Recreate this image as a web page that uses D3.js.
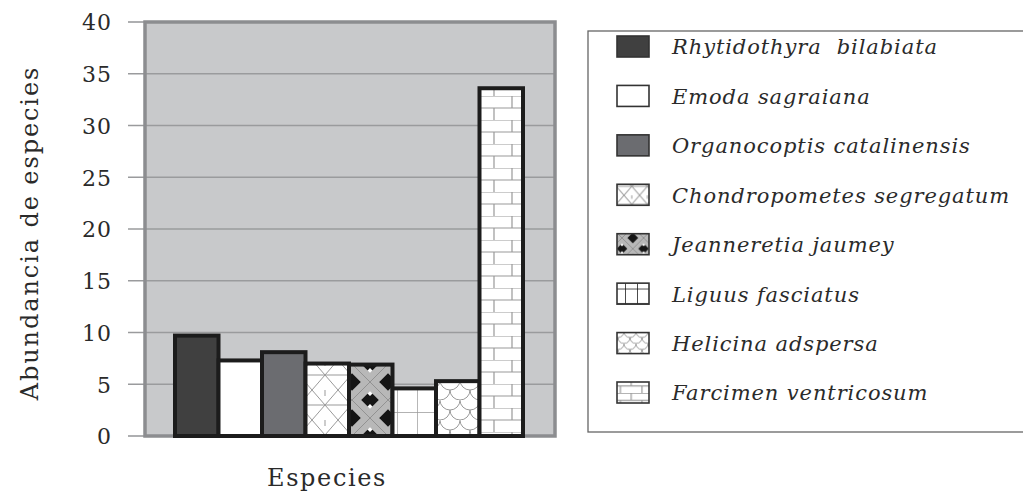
<!DOCTYPE html>
<html>
<head>
<meta charset="utf-8">
<script src="https://cdn.jsdelivr.net/npm/d3@7"></script>
<style>
  body { margin: 0; background: #fff; }
  svg { display: block; }
</style>
</head>
<body>
<div id="chart"></div>
<script>
// data
const species = [
  "Rhytidothyra  bilabiata",
  "Emoda sagraiana",
  "Organocoptis catalinensis",
  "Chondropometes segregatum",
  "Jeanneretia jaumey",
  "Liguus fasciatus",
  "Helicina adspersa",
  "Farcimen ventricosum"
];
const abundance = [9.7, 7.3, 8.1, 7.0, 6.9, 4.6, 5.3, 33.6];
const yTicks = [0, 5, 10, 15, 20, 25, 30, 35, 40];
const fills = ["#404040", "#ffffff", "#6b6c70", "url(#p-lattice)", "url(#p-woven)", "url(#p-grid)", "url(#p-scale)", "url(#p-brick)"];
const legendFills = ["#404040", "#ffffff", "#6b6c70", "url(#l-lattice)", "url(#l-woven)", "url(#l-grid)", "url(#l-scale)", "url(#l-brick)"];

const width = 1023, height = 494;
const plot = { left: 145, right: 555, top: 22, bottom: 436 };
const serif = "'DejaVu Serif', 'Liberation Serif', serif";

const svg = d3.select("#chart").append("svg")
  .attr("width", width)
  .attr("height", height)
  .attr("font-family", serif);

// patterns
const defs = svg.append("defs");
function makePatterns(prefix, s) {
  const lat = defs.append("pattern").attr("id", prefix + "-lattice")
    .attr("patternUnits", "userSpaceOnUse").attr("width", 26 * s).attr("height", 30 * s);
  lat.append("rect").attr("width", 26 * s).attr("height", 30 * s).attr("fill", "#fff");
  lat.append("path")
    .attr("d", `M0,0 L${13 * s},${15 * s} L${26 * s},0 M0,${30 * s} L${13 * s},${15 * s} L${26 * s},${30 * s} M0,${15 * s} L${26 * s},${15 * s} M${13 * s},0 L${13 * s},${6 * s}`)
    .attr("stroke", "#9a9a9a").attr("stroke-width", 1).attr("fill", "none");

  // woven chain: gray crossing bands over black, white notches
  const wov = defs.append("pattern").attr("id", prefix + "-woven")
    .attr("patternUnits", "userSpaceOnUse").attr("width", 36 * s).attr("height", 36 * s)
    .attr("x", 352).attr("y", 436);
  wov.append("rect").attr("width", 36 * s).attr("height", 36 * s).attr("fill", "#151515");
  wov.append("path")
    .attr("d", `M${18 * s},${4 * s} L${24 * s},${10 * s} L${12 * s},${10 * s} Z M${18 * s},${32 * s} L${24 * s},${26 * s} L${12 * s},${26 * s} Z`)
    .attr("fill", "#fff");
  wov.append("path")
    .attr("d", `M0,0 L${36 * s},${36 * s} M${36 * s},0 L0,${36 * s}`)
    .attr("stroke", "#b8b8b8").attr("stroke-width", 13 * s);
  wov.append("path")
    .attr("d", `M0,0 L${36 * s},${36 * s} M${36 * s},0 L0,${36 * s}`)
    .attr("stroke", "#888").attr("stroke-width", 0.8).attr("fill", "none");

  const grid = defs.append("pattern").attr("id", prefix + "-grid")
    .attr("patternUnits", "userSpaceOnUse").attr("width", 20 * s).attr("height", 24 * s)
    .attr("x", 397).attr("y", 412);
  grid.append("rect").attr("width", 20 * s).attr("height", 24 * s).attr("fill", "#fff");
  grid.append("path")
    .attr("d", `M0,0 L${20 * s},0 M0,0 L0,${24 * s}`)
    .attr("stroke", prefix === "l" ? "#111" : "#999").attr("stroke-width", prefix === "l" ? 1.5 : 1.4);

  const sc = defs.append("pattern").attr("id", prefix + "-scale")
    .attr("patternUnits", "userSpaceOnUse").attr("width", 20 * s).attr("height", 20 * s);
  sc.append("rect").attr("width", 20 * s).attr("height", 20 * s).attr("fill", "#fff");
  sc.append("path")
    .attr("d", `M0,0 A${10 * s},${10 * s} 0 0 0 ${20 * s},0 M${-10 * s},${10 * s} A${10 * s},${10 * s} 0 0 0 ${10 * s},${10 * s} M${10 * s},${10 * s} A${10 * s},${10 * s} 0 0 0 ${30 * s},${10 * s} M0,${20 * s} A${10 * s},${10 * s} 0 0 0 ${20 * s},${20 * s}`)
    .attr("stroke", "#999").attr("stroke-width", 1).attr("fill", "none");

  const br = defs.append("pattern").attr("id", prefix + "-brick")
    .attr("patternUnits", "userSpaceOnUse").attr("width", 36 * s).attr("height", 24 * s);
  br.append("rect").attr("width", 36 * s).attr("height", 24 * s).attr("fill", "#fff");
  br.append("path")
    .attr("d", `M0,0 L${36 * s},0 M0,${12 * s} L${36 * s},${12 * s} M${8 * s},0 L${8 * s},${12 * s} M${26 * s},${12 * s} L${26 * s},${24 * s}`)
    .attr("stroke", "#999").attr("stroke-width", 1.2);
}
makePatterns("p", 1);
makePatterns("l", 0.6);

// scales
const x = d3.scaleBand().domain(species).range([175, 523]).padding(0);
const y = d3.scaleLinear().domain([0, 40]).range([plot.bottom, plot.top]);

// plot background
svg.append("rect")
  .attr("x", plot.left).attr("y", plot.top)
  .attr("width", plot.right - plot.left).attr("height", plot.bottom - plot.top)
  .attr("fill", "#c8c9cb");

// grid + ticks
const yAxis = d3.axisLeft(y).tickValues(yTicks).tickSize(0).tickPadding(0);
svg.append("g").selectAll("line.grid")
  .data(yTicks)
  .join("line")
  .attr("class", "grid")
  .attr("x1", 128)
  .attr("x2", d => (d === 0 || d === 40) ? plot.left : plot.right)
  .attr("y1", d => y(d)).attr("y2", d => y(d))
  .attr("stroke", "#9a9b9d").attr("stroke-width", 1.6);

const axisG = svg.append("g")
  .attr("transform", `translate(112,0)`)
  .call(yAxis);
axisG.select(".domain").remove();
axisG.selectAll("text")
  .attr("font-family", serif)
  .attr("font-size", 22)
  .attr("letter-spacing", 1)
  .attr("fill", "#2a2a2a")
  .attr("dy", "0.36em");

// frame
svg.append("rect")
  .attr("x", plot.left).attr("y", plot.top)
  .attr("width", plot.right - plot.left).attr("height", plot.bottom - plot.top)
  .attr("fill", "none").attr("stroke", "#8c8d90").attr("stroke-width", 3.5);

// bars
svg.append("g").selectAll("rect")
  .data(species)
  .join("rect")
  .attr("x", d => x(d))
  .attr("y", (d, i) => y(abundance[i]))
  .attr("width", x.bandwidth())
  .attr("height", (d, i) => y(0) - y(abundance[i]))
  .attr("fill", (d, i) => fills[i])
  .attr("stroke", "#1c1c1c")
  .attr("stroke-width", 4);

// axis titles
svg.append("text")
  .attr("transform", `translate(30,${(plot.top + plot.bottom) / 2 + 4}) rotate(-90)`)
  .attr("text-anchor", "middle")
  .attr("dy", "0.35em")
  .attr("font-size", 24)
  .attr("letter-spacing", 1.9)
  .attr("fill", "#2a2a2a")
  .text("Abundancia de especies");

svg.append("text")
  .attr("x", 327).attr("y", 478)
  .attr("text-anchor", "middle")
  .attr("dy", "0.35em")
  .attr("font-size", 24)
  .attr("letter-spacing", 1.6)
  .attr("fill", "#2a2a2a")
  .text("Especies");

// legend
const legend = svg.append("g");
legend.append("rect")
  .attr("x", 588).attr("y", 31)
  .attr("width", 460).attr("height", 401)
  .attr("fill", "#fff").attr("stroke", "#666").attr("stroke-width", 1.3);

const ly = d3.scalePoint().domain(species).range([47, 393]);
const items = legend.selectAll("g.item")
  .data(species)
  .join("g")
  .attr("class", "item")
  .attr("transform", d => `translate(0,${ly(d)})`);

items.append("rect")
  .attr("x", 617).attr("y", -11)
  .attr("width", 32).attr("height", 21)
  .attr("fill", (d, i) => legendFills[i])
  .attr("stroke", "#333").attr("stroke-width", 1.6);

items.append("text")
  .attr("x", 672).attr("y", 0)
  .attr("dy", "0.35em")
  .attr("font-size", 21)
  .attr("letter-spacing", 0.9)
  .attr("font-style", "italic")
  .attr("fill", "#2a2a2a")
  .style("white-space", "pre")
  .text(d => d);
</script>
</body>
</html>
